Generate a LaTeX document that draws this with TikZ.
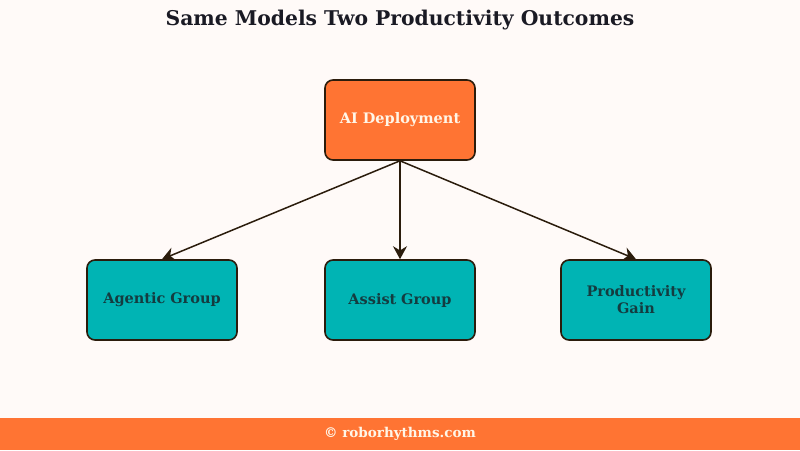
\documentclass[tikz,border=0pt]{standalone}
\usepackage{fontspec}
\setmainfont{DejaVu Serif}
\usetikzlibrary{arrows.meta}
\definecolor{bg}{HTML}{FFFAF8}
\definecolor{orng}{HTML}{FF7433}
\definecolor{teal2}{HTML}{00B4B4}
\definecolor{edge}{HTML}{2B1C0C}
\definecolor{ttl}{HTML}{1A1A24}
\definecolor{tealtxt}{HTML}{143C40}
\definecolor{cream}{HTML}{FFF6E8}
\tikzset{
  box/.style={draw=edge, line width=1.6pt, rounded corners=8pt, minimum width=150pt, minimum height=80pt, align=center, font=\bfseries\fontsize{14.5}{17}\selectfont, inner sep=2pt},
  topbox/.style={box, fill=orng, text=cream},
  leaf/.style={box, fill=teal2, text=tealtxt, text width=140pt},
  conn/.style={draw=edge, line width=1.5pt, -{Stealth[length=13pt,width=14pt]}}
}
\begin{document}
\begin{tikzpicture}[x=1pt,y=-1pt]
\fill[bg] (0,0) rectangle (800,450);
\useasboundingbox (0,0) rectangle (800,450);
\fill[orng] (0,418) rectangle (800,450);
\node[font=\bfseries\fontsize{20.3}{24}\selectfont, text=ttl] (title) at (400,20) {Same Models Two Productivity Outcomes};
\node[topbox] (ai) at (400,120) {AI Deployment};
\node[leaf] (ag) at (162,300) {Agentic Group};
\node[leaf] (as) at (400,300) {Assist Group};
\node[leaf] (pg) at (636,300) {Productivity\\Gain};
\draw[conn] (ai.south) -- (ag.north);
\draw[conn] (ai.south) -- (as.north);
\draw[conn] (ai.south) -- (pg.north);
\node[font=\bfseries\fontsize{13.5}{16}\selectfont, text=cream] (foot) at (400,434) {© roborhythms.com};
\end{tikzpicture}
\end{document}
